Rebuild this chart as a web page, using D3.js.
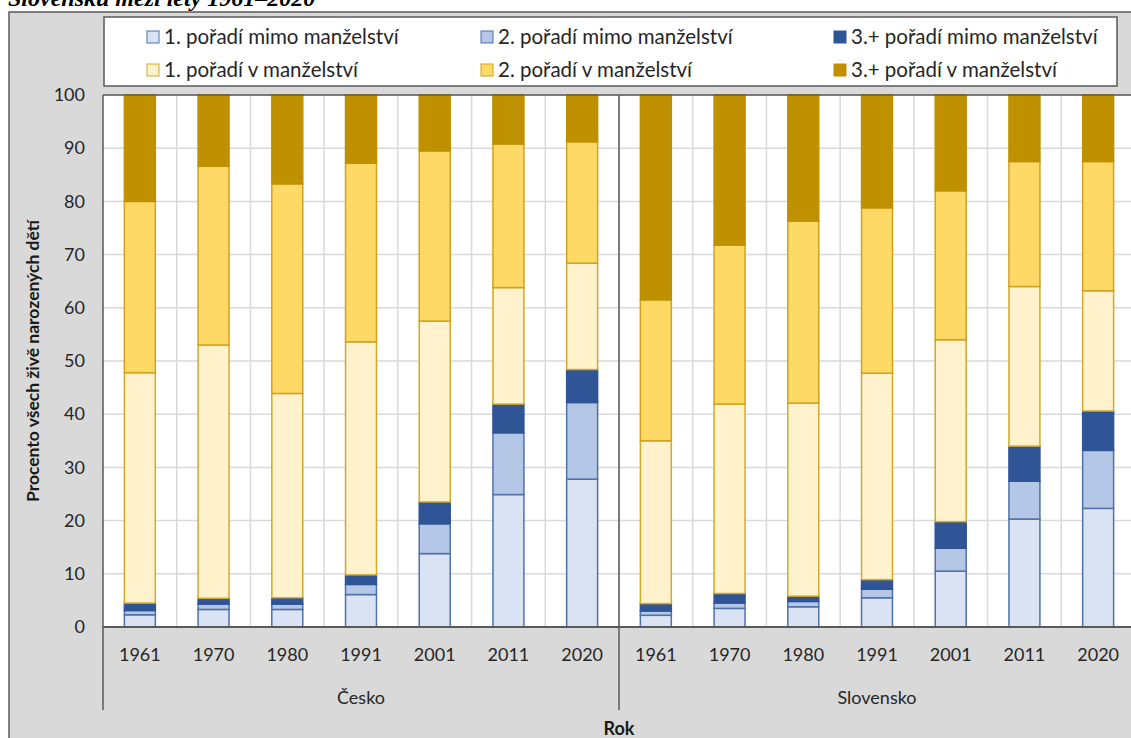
<!DOCTYPE html>
<html>
<head>
<meta charset="utf-8">
<script src="https://cdn.jsdelivr.net/npm/d3@7"></script>
<style>
  body { margin: 0; background: #fff; }
  svg { display: block; font-family: Lato, "Open Sans", sans-serif; }
</style>
</head>
<body>
<div id="chart"></div>
<script>
// data
const countries = ['Česko', 'Slovensko'];
const years = ['1961', '1970', '1980', '1991', '2001', '2011', '2020'];
const seriesNames = [
  '1. pořadí mimo manželství',
  '2. pořadí mimo manželství',
  '3.+ pořadí mimo manželství',
  '1. pořadí v manželství',
  '2. pořadí v manželství',
  '3.+ pořadí v manželství'
];
// one row per bar: Česko 1961..2020, then Slovensko 1961..2020
const mimo1 = [2.3, 3.3, 3.3, 6.1, 13.8, 24.9, 27.8, 2.2, 3.5, 3.8, 5.5, 10.5, 20.3, 22.3];
const mimo2 = [0.8, 1.0, 1.0, 1.9, 5.6, 11.6, 14.4, 0.8, 1.0, 1.0, 1.6, 4.3, 7.1, 10.9];
const mimo3 = [1.4, 1.1, 1.2, 1.8, 4.1, 5.4, 6.2, 1.4, 1.8, 1.0, 1.8, 5.0, 6.6, 7.4];
const manz1 = [43.3, 47.6, 38.4, 43.8, 34.0, 21.9, 20.0, 30.6, 35.6, 36.3, 38.8, 34.2, 30.0, 22.6];
const manz2 = [32.2, 33.6, 39.4, 33.6, 32.0, 27.0, 22.8, 26.5, 29.9, 34.2, 31.1, 28.0, 23.5, 24.3];
const manz3 = [20.0, 13.4, 16.7, 12.8, 10.5, 9.2, 8.8, 38.5, 28.2, 23.7, 21.2, 18.0, 12.5, 12.5];
const yTicks = [0, 10, 20, 30, 40, 50, 60, 70, 80, 90, 100];

const fills = ['#dae3f3', '#b4c7e7', '#2f5597', '#fff2cc', '#ffd966', '#bf9000'];
const strokes = ['#4f71a8', '#4f71a8', '#2f5597', '#d4a927', '#cfa21f', '#bf9000'];

const width = 1131;
const height = 738;

const rows = [];
countries.forEach((c, ci) => {
  years.forEach((y, yi) => {
    const i = ci * years.length + yi;
    rows.push({
      key: c + '|' + y, country: c, year: y,
      s0: mimo1[i], s1: mimo2[i], s2: mimo3[i], s3: manz1[i], s4: manz2[i], s5: manz3[i]
    });
  });
});

const svg = d3.select('#chart').append('svg').attr('width', width).attr('height', height);

// title, cut off at the top like in the source
svg.append('text')
  .attr('x', 8).attr('y', 6)
  .style('font-family', '"Liberation Serif", "Times New Roman", serif')
  .style('font-weight', 'bold').style('font-style', 'italic')
  .style('font-size', '24px')
  .text('Slovensku mezi lety 1961–2020');

// chart frame
svg.append('rect')
  .attr('x', 9).attr('y', 12).attr('width', width).attr('height', height)
  .attr('fill', '#d9d9d9').attr('stroke', '#595959').attr('stroke-width', 1.5);

const margin = { top: 95, left: 103, bottom: 627 };
const plotRight = 1135;

const x = d3.scaleBand().domain(rows.map((d) => d.key)).range([margin.left, plotRight]).paddingInner(0.58).paddingOuter(0.29);
const step = x.step();
const y = d3.scaleLinear().domain([0, 100]).range([margin.bottom, margin.top]);

const plot = svg.append('g');
plot.append('rect')
  .attr('x', margin.left).attr('y', margin.top)
  .attr('width', plotRight - margin.left).attr('height', margin.bottom - margin.top)
  .attr('fill', '#fff');

// gridlines
plot.append('g').selectAll('line.h').data(yTicks).enter().append('line')
  .attr('x1', margin.left).attr('x2', plotRight)
  .attr('y1', (d) => y(d)).attr('y2', (d) => y(d))
  .attr('stroke', '#d9d9d9').attr('stroke-width', 1.5);
plot.append('g').selectAll('line.v').data(rows.slice(1)).enter().append('line')
  .attr('x1', (d) => x(d.key) - step * 0.29).attr('x2', (d) => x(d.key) - step * 0.29)
  .attr('y1', margin.top).attr('y2', margin.bottom)
  .attr('stroke', '#d9d9d9').attr('stroke-width', 1.5);

// stacked bars
const keys = ['s0', 's1', 's2', 's3', 's4', 's5'];
const stacked = d3.stack().keys(keys)(rows);

plot.selectAll('.layer').data(stacked).enter().append('g')
  .classed('layer', true)
  .attr('fill', (d, i) => fills[i])
  .attr('stroke', (d, i) => strokes[i])
  .attr('stroke-width', 1.5)
  .selectAll('rect').data((d) => d).enter().append('rect')
  .attr('x', (d) => x(d.data.key))
  .attr('y', (d) => y(d[1]))
  .attr('width', x.bandwidth())
  .attr('height', (d) => y(d[0]) - y(d[1]));

// plot border + country separator
plot.append('line').attr('x1', margin.left).attr('x2', plotRight).attr('y1', margin.top).attr('y2', margin.top)
  .attr('stroke', '#595959').attr('stroke-width', 1.5);
plot.append('line').attr('x1', margin.left).attr('x2', margin.left).attr('y1', margin.top).attr('y2', 710)
  .attr('stroke', '#595959').attr('stroke-width', 1.5);
const sepX = margin.left + step * years.length;
plot.append('line').attr('x1', sepX).attr('x2', sepX).attr('y1', margin.top).attr('y2', 710)
  .attr('stroke', '#595959').attr('stroke-width', 1.5);
plot.append('line').attr('x1', margin.left).attr('x2', plotRight).attr('y1', margin.bottom).attr('y2', margin.bottom)
  .attr('stroke', '#595959').attr('stroke-width', 2);

// y axis
const yAxis = d3.axisLeft(y).tickValues(yTicks).tickSize(0).tickPadding(0);
svg.append('g')
  .attr('transform', 'translate(85,0)')
  .call(yAxis)
  .call((g) => g.select('.domain').remove())
  .selectAll('text')
  .style('font-family', 'Lato, "Open Sans", sans-serif')
  .style('font-size', '18px').attr('fill', '#262626');

svg.append('text')
  .attr('transform', 'translate(39,' + ((margin.top + margin.bottom) / 2) + ') rotate(-90)')
  .attr('text-anchor', 'middle')
  .style('font-size', '17.5px').style('font-weight', 'bold').attr('fill', '#1a1a1a')
  .text('Procento všech živě narozených dětí');

// x axis: years
const xAxis = d3.axisBottom(x).tickSize(0).tickPadding(0).tickFormat((k) => k.split('|')[1]);
svg.append('g')
  .attr('transform', 'translate(0,' + 648 + ')')
  .call(xAxis)
  .call((g) => g.select('.domain').remove())
  .selectAll('text')
  .style('font-family', 'Lato, "Open Sans", sans-serif')
  .style('font-size', '18px').attr('fill', '#262626');

// country labels
svg.selectAll('.country').data(countries).enter().append('text')
  .classed('country', true)
  .attr('x', (d, i) => margin.left + step * years.length * (i + 0.5))
  .attr('y', 704)
  .attr('text-anchor', 'middle')
  .style('font-size', '18px').attr('fill', '#262626')
  .text((d) => d);

svg.append('text')
  .attr('x', sepX).attr('y', 735)
  .attr('text-anchor', 'middle')
  .style('font-size', '18px').style('font-weight', 'bold').attr('fill', '#1a1a1a')
  .text('Rok');

// legend
svg.append('rect')
  .attr('x', 104).attr('y', 17).attr('width', 1013).attr('height', 69)
  .attr('fill', '#fff').attr('stroke', '#595959').attr('stroke-width', 1.5);
const legendCols = [147, 481, 834];
const legendRows = [37, 70];
const legend = svg.selectAll('.legend-item').data(seriesNames).enter().append('g')
  .classed('legend-item', true)
  .attr('transform', (d, i) => 'translate(' + legendCols[i % 3] + ',' + legendRows[Math.floor(i / 3)] + ')');
legend.append('rect')
  .attr('x', 0).attr('y', -6).attr('width', 12).attr('height', 12)
  .attr('fill', (d, i) => fills[i]).attr('stroke', (d, i) => strokes[i]).attr('stroke-width', 1);
legend.append('text')
  .attr('x', 17).attr('dy', '0.35em')
  .style('font-size', '20.5px').attr('fill', '#262626')
  .text((d) => d);
</script>
</body>
</html>
